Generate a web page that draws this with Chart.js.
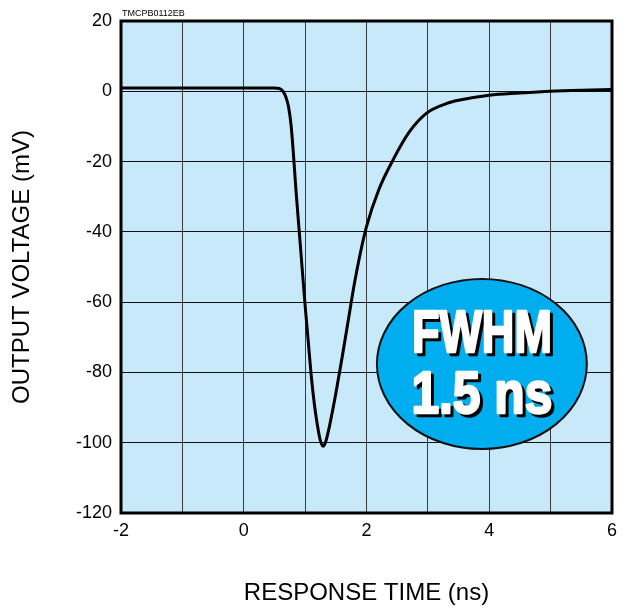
<!DOCTYPE html>
<html>
<head>
<meta charset="utf-8">
<script src="https://cdn.jsdelivr.net/npm/chart.js@4/dist/chart.umd.min.js"></script>
<style>
  html, body { margin: 0; padding: 0; background: #fff; }
  #wrap { width: 630px; height: 608px; }
</style>
</head>
<body>
<div id="wrap"><canvas id="pulse"></canvas></div>
<script>
// Pulse response
const timeNs = [-2, -1, 0, 0.5, 0.58, 0.64, 0.69, 0.73, 0.77, 0.81, 0.85, 0.9, 0.95, 1.0, 1.05, 1.1, 1.15, 1.2, 1.25, 1.29, 1.33, 1.4, 1.5, 1.6, 1.7, 1.8, 1.9, 2.0, 2.2, 2.43, 2.7, 2.98, 3.3, 3.52, 4.0, 4.5, 5.0, 5.5, 6.0];
const voltageMv = [0.9, 0.9, 0.9, 0.9, 0.8, 0, -1.8, -4.5, -9.5, -18, -28, -39, -50, -61, -71, -81, -89, -95, -99.5, -101, -100, -95, -86, -76, -65.5, -55, -46, -38.5, -28, -19.6, -11.5, -6.2, -3.5, -2.5, -1.1, -0.5, 0, 0.3, 0.5];
const xTicks = [-2, 0, 2, 4, 6];
const yTicks = [20, 0, -20, -40, -60, -80, -100, -120];
const badgeLines = ['FWHM', '1.5 ns'];
const docCode = 'TMCPB0112EB';

const font = "'Liberation Sans', Arial, Helvetica, sans-serif";

// fond bleu + cadre + étiquette ovale
const decor = {
  id: 'decor',
  beforeDraw(chart) {
    const { ctx, chartArea: a } = chart;
    ctx.save();
    ctx.fillStyle = '#C7E9F9';
    ctx.fillRect(a.left, a.top, a.right - a.left, a.bottom - a.top);
    ctx.restore();
  },
  afterDatasetsDraw(chart) {
    const { ctx, chartArea: a, scales: { x, y } } = chart;
    ctx.save();
    ctx.strokeStyle = '#000';
    ctx.lineWidth = 3;
    ctx.strokeRect(a.left, a.top, a.right - a.left, a.bottom - a.top);

    // code du document
    ctx.fillStyle = '#000';
    ctx.font = "9px " + font;
    ctx.textBaseline = 'alphabetic';
    ctx.fillText(docCode, a.left + 1, a.top - 5);

    // ellipse
    const cx = x.getPixelForValue(3.88), cy = y.getPixelForValue(-77.6);
    const rx = x.getPixelForValue(3.88 + 1.71) - cx;
    const ry = y.getPixelForValue(-77.6 - 24.2) - cy;
    ctx.beginPath();
    ctx.ellipse(cx, cy, rx, ry, 0, 0, Math.PI * 2);
    ctx.fillStyle = '#00ADEE';
    ctx.fill();
    ctx.lineWidth = 2;
    ctx.strokeStyle = '#111';
    ctx.stroke();

    // texte gras condensé avec ombre
    ctx.font = "bold 60px 'Liberation Sans', Arial, sans-serif";
    ctx.textAlign = 'center';
    ctx.textBaseline = 'alphabetic';
    ctx.lineJoin = 'round';
    const rows = [{ t: badgeLines[0], base: cy - 12, w: 140 }, { t: badgeLines[1], base: cy + 49, w: 141 }];
    rows.forEach(r => {
      const m = ctx.measureText(r.t).width;
      const sx = r.w / m;
      ctx.save();
      ctx.translate(cx, r.base);
      ctx.scale(sx, 1);
      ctx.lineWidth = 2.5;
      ctx.fillStyle = '#000';
      ctx.strokeStyle = '#000';
      ctx.fillText(r.t, 3 / sx, 3);
      ctx.strokeText(r.t, 3 / sx, 3);
      ctx.fillStyle = '#fff';
      ctx.strokeStyle = '#fff';
      ctx.fillText(r.t, 0, 0);
      ctx.strokeText(r.t, 0, 0);
      ctx.restore();
    });
    ctx.restore();
  }
};

new Chart(document.getElementById('pulse'), {
  type: 'line',
  data: {
    datasets: [{
      data: timeNs.map((t, i) => ({ x: t, y: voltageMv[i] })),
      borderColor: '#000',
      borderWidth: 3,
      pointRadius: 0,
      cubicInterpolationMode: 'monotone',
      fill: false
    }]
  },
  options: {
    responsive: true,
    maintainAspectRatio: false,
    animation: false,
    layout: { padding: { top: 21, right: 18, left: 0, bottom: 0 } },
    plugins: { legend: { display: false }, tooltip: { enabled: false } },
    scales: {
      x: {
        type: 'linear',
        min: -2, max: 6,
        afterFit(s) { s.height = 95; },
        afterBuildTicks(s) {
          s.ticks = [];
          for (let v = -2; v <= 6; v++) s.ticks.push({ value: v });
        },
        ticks: {
          padding: 7,
          autoSkip: false,
          maxRotation: 0,
          color: '#000',
          font: { family: font, size: 18 },
          callback: v => xTicks.includes(v) ? String(v) : ''
        },
        grid: { color: '#3a3a3a', lineWidth: 1, drawTicks: false },
        border: { display: false },
        title: {
          display: true,
          text: 'RESPONSE TIME (ns)',
          color: '#000',
          font: { family: font, size: 24 },
          padding: { top: 0, bottom: 0 }
        }
      },
      y: {
        type: 'linear',
        min: -120, max: 20,
        afterFit(s) { s.width = 121; },
        afterBuildTicks(s) { s.ticks = yTicks.map(v => ({ value: v })); },
        ticks: {
          padding: 9,
          color: '#000',
          font: { family: font, size: 18 }
        },
        grid: { color: '#111', lineWidth: 1, drawTicks: false },
        border: { display: false },
        title: {
          display: true,
          text: 'OUTPUT VOLTAGE (mV)',
          color: '#000',
          font: { family: font, size: 24 },
          padding: { top: 8, bottom: 0 }
        }
      }
    }
  },
  plugins: [decor]
});
</script>
</body>
</html>
